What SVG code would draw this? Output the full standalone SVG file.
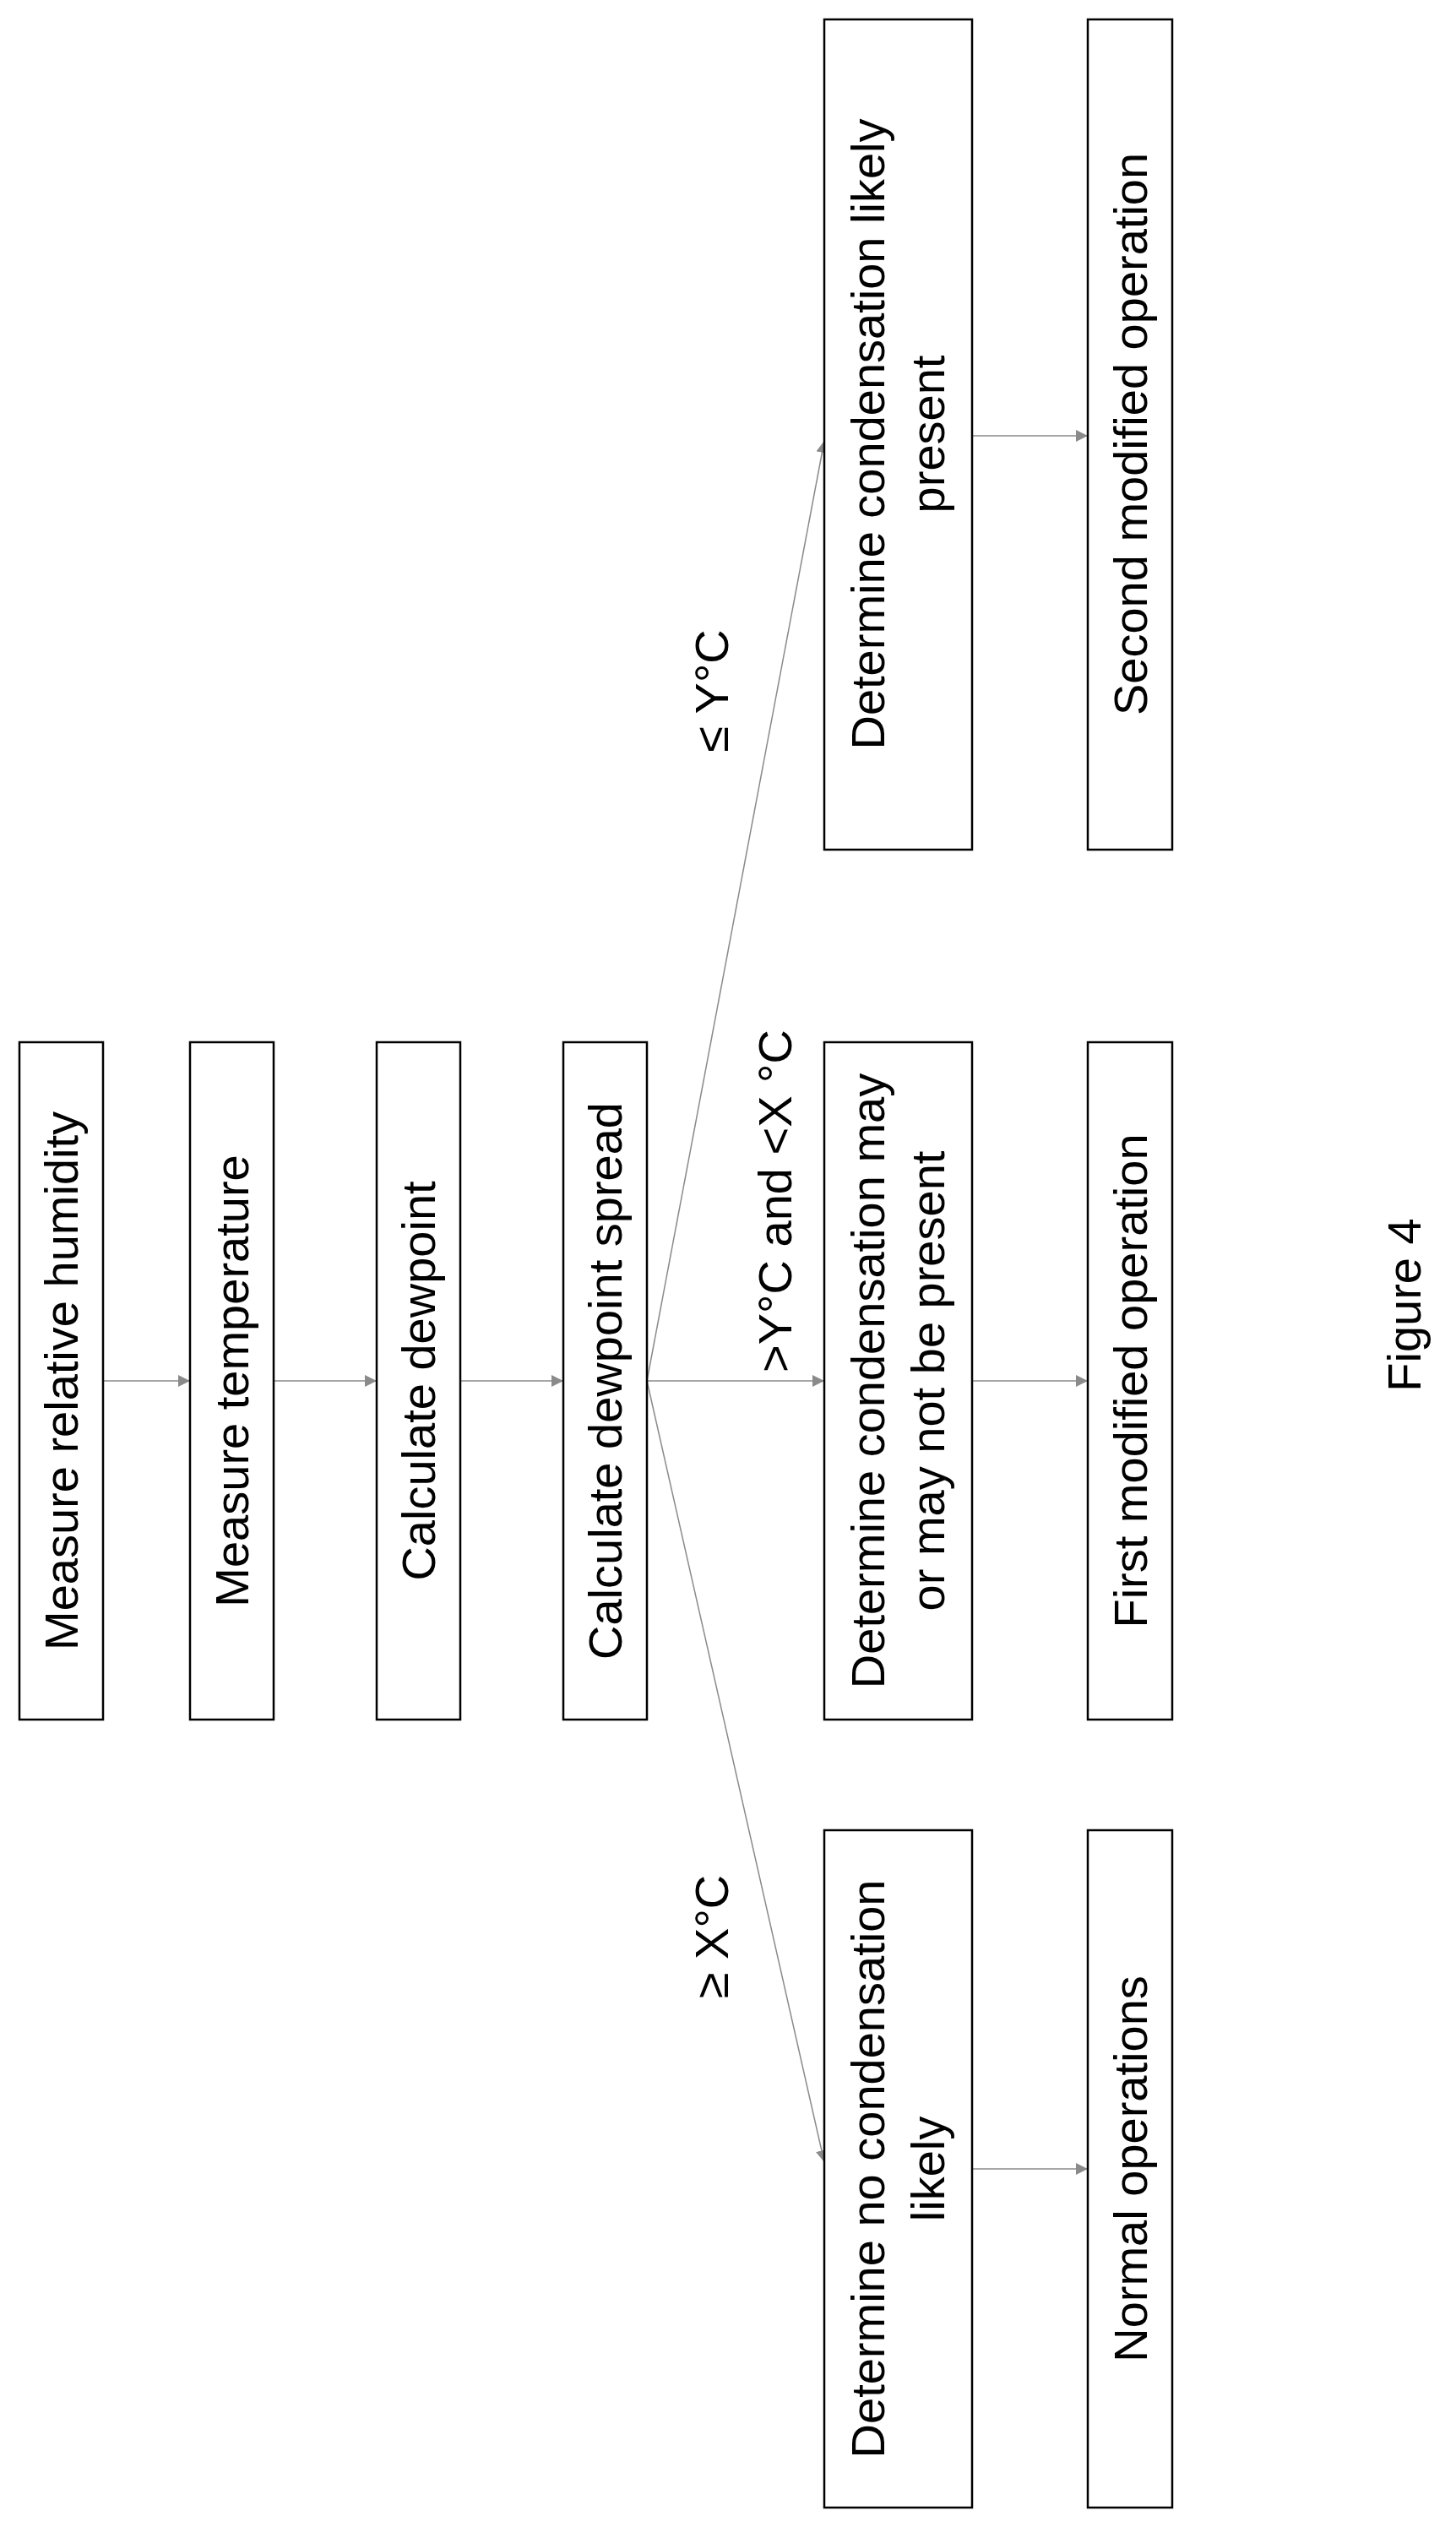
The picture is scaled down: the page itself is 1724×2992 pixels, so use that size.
<svg xmlns="http://www.w3.org/2000/svg" width="1724" height="2992" viewBox="0 0 1724 2992">
<style>
rect{fill:#fff;stroke:#000;stroke-width:2.5}
text{font-family:"Liberation Sans",Arial,sans-serif;font-size:56px;fill:#000;text-anchor:middle}
.c{stroke:#8a8a8a;stroke-width:1.5;fill:none;marker-end:url(#a)}
</style>
<defs><marker id="a" viewBox="0 0 10 10" refX="10" refY="5" markerWidth="14" markerHeight="14" markerUnits="userSpaceOnUse" orient="auto"><path d="M0,0L10,5L0,10z" fill="#8a8a8a"/></marker></defs>
<rect width="1724" height="2992" style="stroke:none"/>
<g id="connectors">
<line class="c" x1="122" y1="1635" x2="225" y2="1635"/>
<line class="c" x1="324" y1="1635" x2="446" y2="1635"/>
<line class="c" x1="545" y1="1635" x2="667" y2="1635"/>
<line class="c" x1="766" y1="1635" x2="976" y2="1635"/>
<line class="c" x1="766" y1="1635" x2="976" y2="522"/>
<line class="c" x1="766" y1="1635" x2="976" y2="2560"/>
<line class="c" x1="1151" y1="1635" x2="1288" y2="1635"/>
<line class="c" x1="1151" y1="516" x2="1288" y2="516"/>
<line class="c" x1="1151" y1="2568" x2="1288" y2="2568"/>
<text transform="translate(862,818) rotate(-90)">≤ Y°C</text>
<text transform="translate(937,1422) rotate(-90)">&gt;Y°C and &lt;X °C</text>
<text transform="translate(862,2293) rotate(-90)">≥ X°C</text>
</g>
<g id="n1"><rect x="23" y="1234" width="99" height="802"/><text transform="translate(92,1635) rotate(-90)">Measure relative humidity</text></g>
<g id="n2"><rect x="225" y="1234" width="99" height="802"/><text transform="translate(294,1635) rotate(-90)">Measure temperature</text></g>
<g id="n3"><rect x="446" y="1234" width="99" height="802"/><text transform="translate(515,1635) rotate(-90)">Calculate dewpoint</text></g>
<g id="n4"><rect x="667" y="1234" width="99" height="802"/><text transform="translate(736,1635) rotate(-90)">Calculate dewpoint spread</text></g>
<g id="n5"><rect x="976" y="23" width="175" height="983"/><text transform="translate(1047,514) rotate(-90)">Determine condensation likely</text><text transform="translate(1118,514) rotate(-90)">present</text></g>
<g id="n6"><rect x="1288" y="23" width="100" height="983"/><text transform="translate(1358,514) rotate(-90)">Second modified operation</text></g>
<g id="n7"><rect x="976" y="1234" width="175" height="802"/><text transform="translate(1047,1635) rotate(-90)">Determine condensation may</text><text transform="translate(1118,1635) rotate(-90)">or may not be present</text></g>
<g id="n8"><rect x="1288" y="1234" width="100" height="802"/><text transform="translate(1358,1635) rotate(-90)">First modified operation</text></g>
<g id="n9"><rect x="976" y="2167" width="175" height="802"/><text transform="translate(1047,2568) rotate(-90)">Determine no condensation</text><text transform="translate(1118,2568) rotate(-90)">likely</text></g>
<g id="n10"><rect x="1288" y="2167" width="100" height="802"/><text transform="translate(1358,2568) rotate(-90)">Normal operations</text></g>
<text transform="translate(1682,1545) rotate(-90)">Figure 4</text>
</svg>
